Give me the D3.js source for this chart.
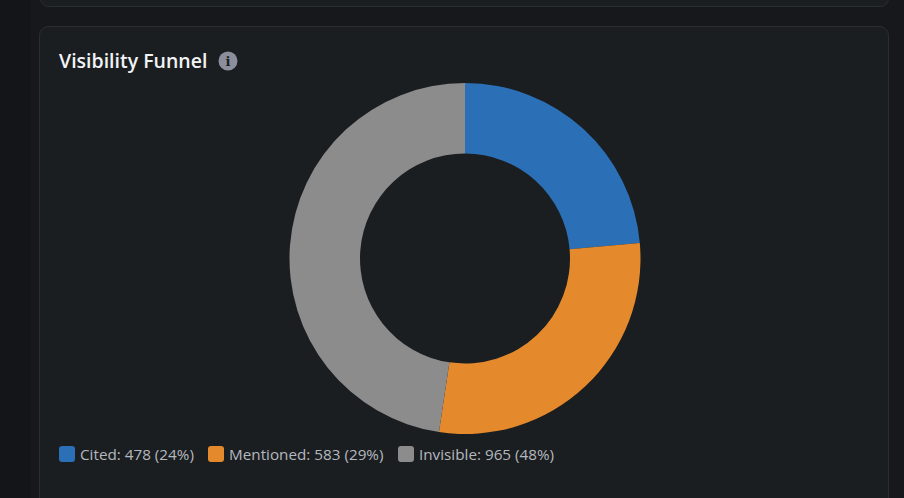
<!DOCTYPE html>
<html><head><meta charset="utf-8">
<script src="https://cdn.jsdelivr.net/npm/d3@7/dist/d3.min.js"></script>
<style>html,body{margin:0;padding:0;background:#17181b;overflow:hidden}svg{display:block}</style>
</head><body><svg id="c" width="904" height="498"></svg>
<script>
const categories=["Cited","Mentioned","Invisible"];
const values=[478,583,965];
const percents=[24,29,48];
const colors=["#2b70b6","#e58a2c","#8c8c8c"];
const svg=d3.select("#c");
const font="'Open Sans','Noto Sans',sans-serif";
svg.append("rect").attr("width",904).attr("height",498).attr("fill","#17181b");
svg.append("rect").attr("x",0).attr("y",0).attr("width",31).attr("height",498).attr("fill","#141518");
svg.append("rect").attr("x",40.5).attr("y",-30).attr("width",848).attr("height",36.5).attr("rx",8)
 .attr("fill","#1b1e21").attr("stroke","#2a2d31");
svg.append("rect").attr("x",39.5).attr("y",26.5).attr("width",849).attr("height",520).attr("rx",9)
 .attr("fill","#1b1e21").attr("stroke","#2a2d31");
svg.append("text").attr("x",59).attr("y",68).attr("fill","#f2f3f5")
 .attr("font-family",font).attr("font-size",19.5).attr("font-weight",600).text("Visibility Funnel");
svg.append("circle").attr("cx",228).attr("cy",61).attr("r",9.5).attr("fill","#8b8f9c");
svg.append("text").attr("x",228).attr("y",66).attr("text-anchor","middle").attr("fill","#1b1e21")
 .attr("font-family","'DejaVu Serif',serif").attr("font-size",13).attr("font-weight",700).text("i");
const pie=d3.pie().sort(null).value(d=>d)(values);
const arc=d3.arc().innerRadius(105).outerRadius(175.5);
svg.append("g").attr("transform","translate(465,258.5)").selectAll("path").data(pie).join("path")
 .attr("d",arc).attr("fill",(d,i)=>colors[i]);
const legendX=[59,208,398];
const lg=svg.append("g").selectAll("g").data(categories).join("g")
 .attr("transform",(d,i)=>`translate(${legendX[i]},446)`);
lg.append("rect").attr("width",16).attr("height",16).attr("rx",3).attr("fill",(d,i)=>colors[i]);
lg.append("text").attr("x",21).attr("y",14).attr("fill","#b4b8be").attr("font-family",font).attr("font-size",15.25)
 .text((d,i)=>`${d}: ${values[i]} (${percents[i]}%)`);
</script></body></html>
